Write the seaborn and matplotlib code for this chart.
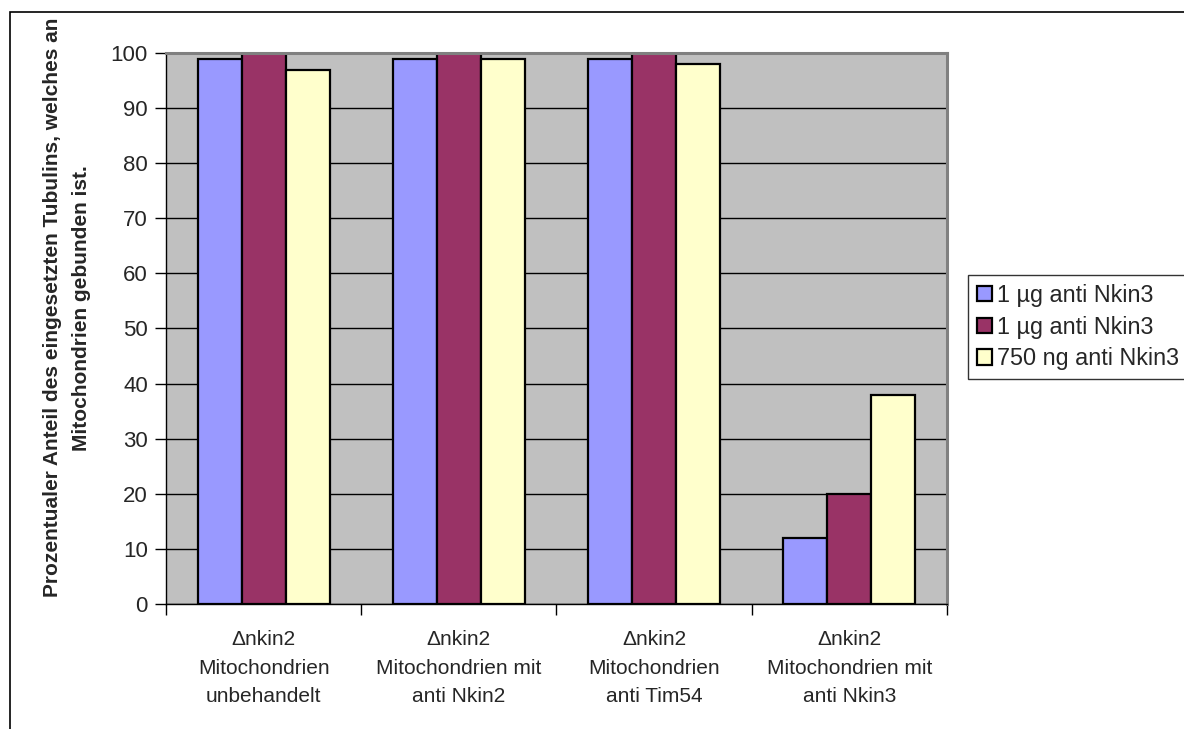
import pandas as pd
import matplotlib
matplotlib.use("Agg")
import matplotlib.pyplot as plt
import matplotlib.patches as mpatches
import seaborn as sns


# Data

categories = [
    "Δnkin2\nMitochondrien\nunbehandelt",
    "Δnkin2\nMitochondrien mit\nanti Nkin2",
    "Δnkin2\nMitochondrien\nanti Tim54",
    "Δnkin2\nMitochondrien mit\nanti Nkin3",
]
series_labels = ["1 µg anti Nkin3", "1 µg anti Nkin3", "750 ng anti Nkin3"]
series_a = [99, 99, 99, 12]
series_b = [100, 100, 100, 20]
series_c = [97, 99, 98, 38]
colors = ["#9999FF", "#993366", "#FFFFCC"]
y_ticks = [0, 10, 20, 30, 40, 50, 60, 70, 80, 90, 100]

rows = []
for i, vals in enumerate([series_a, series_b, series_c]):
    for cat, v in zip(categories, vals):
        rows.append({"cat": cat, "series": "s%d" % i, "value": v})
df = pd.DataFrame(rows)


# Chart

sns.set_style("white")
plt.rcParams["font.family"] = ["Liberation Sans", "DejaVu Sans"]

fig = plt.figure(figsize=(11.84, 7.29), dpi=100)
ax = fig.add_axes([0.1402, 0.1715, 0.6596, 0.7558])
ax.set_facecolor("#C0C0C0")

sns.barplot(data=df, x="cat", y="value", hue="series",
            palette=colors, width=0.675, edgecolor="black",
            linewidth=1.6, saturation=1, ax=ax)

ax.set_ylim(0, 100)
ax.set_xlim(-0.5, 3.5)
ax.set_yticks(y_ticks)
ax.yaxis.grid(True, color="black", linewidth=1.0)
ax.set_axisbelow(True)

ax.set_xlabel("")
ax.set_ylabel("")
ax.tick_params(axis="y", labelsize=16, length=8, width=1, color="black",
               direction="out", left=True, pad=5)
ax.tick_params(axis="x", which="major", labelsize=15, length=0, pad=19)
ax.set_xticks([-0.5, 0.5, 1.5, 2.5, 3.5], minor=True)
ax.tick_params(axis="x", which="minor", length=8, width=1, color="black",
               direction="out", bottom=True)
for lab in ax.get_xticklabels():
    lab.set_linespacing(1.62)

for side in ["left", "bottom"]:
    ax.spines[side].set_color("black")
    ax.spines[side].set_linewidth(1.0)
for side in ["top", "right"]:
    ax.spines[side].set_color("#808080")
    ax.spines[side].set_linewidth(2.2)

fig.text(0.0565, 0.578,
         "Prozentualer Anteil des eingesetzten Tubulins, welches an\n"
         "Mitochondrien gebunden ist.",
         rotation=90, ha="center", va="center", fontsize=15.0,
         fontweight="bold", multialignment="center", linespacing=1.7)

# legend with the duplicated labels
handles = [mpatches.Patch(facecolor=c, edgecolor="black", linewidth=1.6)
           for c in colors]
ax.legend_.remove()
leg = fig.legend(handles, series_labels, loc="center left",
                 bbox_to_anchor=(0.8176, 0.5514), fontsize=16.8,
                 frameon=True, fancybox=False, edgecolor="black",
                 handlelength=0.65, handleheight=0.65, handletextpad=0.2,
                 labelspacing=0.38, borderpad=0.38, borderaxespad=0)
leg.get_frame().set_linewidth(1.0)

# outer chart border
fig.patches.append(mpatches.Rectangle((0.0088, -0.05), 1.1, 0.05 + 1 - 11.5 / 729,
                                      transform=fig.transFigure, fill=False,
                                      edgecolor="black", linewidth=1.2))

fig.savefig("out.png", dpi=100)
